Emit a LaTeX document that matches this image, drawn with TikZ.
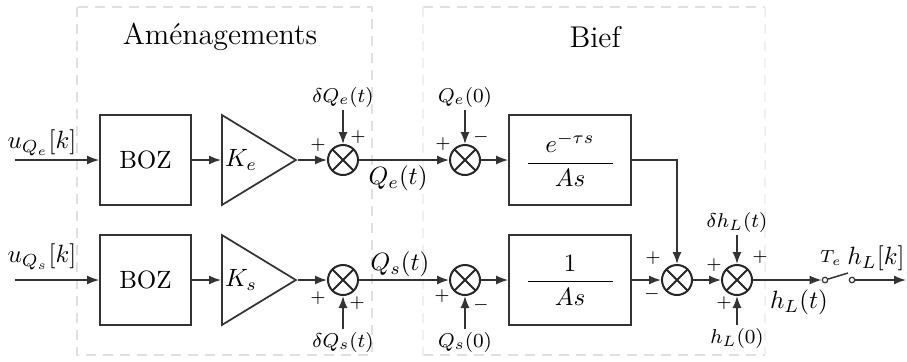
\documentclass[tikz,border=0pt]{standalone}
\usetikzlibrary{arrows.meta,shapes.geometric}
\begin{document}
\begin{tikzpicture}[x=0.4pt,y=-0.4pt,
  wire/.style={draw=black!80, line width=0.6pt},
  arr/.style={wire, -{Latex[length=4.8pt,width=3.6pt]}},
  blk/.style={draw=black!80, line width=0.7pt, minimum width=36.4pt, minimum height=36pt, inner sep=0pt},
  fblk/.style={blk, minimum width=48.8pt},
  amp/.style={draw=black!80, line width=0.7pt, isosceles triangle, isosceles triangle stretches, shape border rotate=0, minimum width=36pt, minimum height=29.6pt, inner sep=0pt, anchor=west},
  sum/.style={circle, draw=black!85, line width=0.8pt, minimum size=12pt, inner sep=0pt,
    path picture={\draw[line width=0.8pt, black!85] (path picture bounding box.north west) -- (path picture bounding box.south east) (path picture bounding box.north east) -- (path picture bounding box.south west);}},
  contact/.style={circle, draw=black!80, line width=0.5pt, inner sep=0pt, minimum size=2.2pt},
  sig/.style={font=\footnotesize, inner sep=1pt},
  sgn/.style={font=\scriptsize, inner sep=0pt},
  zone/.style={draw=black!12, line width=0.6pt, dash pattern=on 4pt off 2.8pt},
  zonefaint/.style={zone, draw=black!6}
]
\useasboundingbox (0,0) rectangle (907,361);
% zones
\draw[zone] (77,7) rectangle (372,355);
\draw[zone] (423,7) -- (765,7);
\draw[zone] (423,355) -- (765,355);
\draw[zonefaint] (423,7) -- (423,355);
\draw[zonefaint] (765,7) -- (765,355);
\node[font=\large] (t1) at (220,37) {Aménagements};
\node[font=\large] (t2) at (595,37) {Bief};

% top row
\coordinate (in1) at (15,160);
\node[blk] (boz1) at (145.5,160) {BOZ};
\node[amp] (ke) at (221,160) {};
\node (kel) at (241,160) {$K_e$};
\node[sum] (s1) at (343,160) {};
\node[sum] (s2) at (465,160) {};
\node[fblk] (f1) at (570,160) {$\displaystyle\frac{\makebox[34pt]{$e^{-\tau s}$}}{\makebox[34pt]{$As$}}$};
\node[sig] (dqe) at (343,97) {$\delta Q_e(t)$};
\node[sig] (qe0) at (465,97) {$Q_e(0)$};
\node (ue) at (42,143) {$u_{Q_e}[k]$};
\node (qet) at (398,178) {$Q_e(t)$};

\draw[arr] (in1) -- (boz1);
\draw[arr] (boz1) -- (ke.west);
\draw[arr] (ke.apex) -- (s1);
\draw[arr] (dqe) -- (s1);
\draw[arr] (s1) -- (s2);
\draw[arr] (qe0) -- (s2);
\draw[arr] (s2) -- (f1);

\node[sgn] at (318,145) {$+$};
\node[sgn] at (358,137) {$+$};
\node[sgn] at (443,144) {$+$};
\node[sgn] at (481,137) {$-$};

% bottom row
\coordinate (in2) at (15,280);
\node[blk] (boz2) at (145.5,280) {BOZ};
\node[amp] (ks) at (221,280) {};
\node (ksl) at (241,280) {$K_s$};
\node[sum] (s3) at (343,280) {};
\node[sum] (s4) at (465,280) {};
\node[fblk] (f2) at (570,280) {$\displaystyle\frac{\makebox[34pt]{$1$}}{\makebox[34pt]{$As$}}$};
\node[sig] (dqs) at (343,342) {$\delta Q_s(t)$};
\node[sig] (qs0) at (465,342) {$Q_s(0)$};
\node (us) at (42,257) {$u_{Q_s}[k]$};
\node (qst) at (400,264) {$Q_s(t)$};

\draw[arr] (in2) -- (boz2);
\draw[arr] (boz2) -- (ks.west);
\draw[arr] (ks.apex) -- (s3);
\draw[arr] (dqs) -- (s3);
\draw[arr] (s3) -- (s4);
\draw[arr] (qs0) -- (s4);
\draw[arr] (s4) -- (f2);

\node[sgn] at (318,298) {$+$};
\node[sgn] at (357,303) {$+$};
\node[sgn] at (442,296) {$+$};
\node[sgn] at (481,305) {$-$};

% output part
\node[sum] (s5) at (677,280) {};
\node[sum] (s6) at (737,280) {};
\node[sig] (dhl) at (737,222) {$\delta h_L(t)$};
\node[sig] (hl0) at (737,338) {$h_L(0)$};
\node (hlt) at (799,302) {$h_L(t)$};
\node[contact] (c1) at (825,280) {};
\node[contact] (c2) at (852,280) {};
\coordinate (sw) at (848,273);
\coordinate (out) at (906,280);
\node[font=\scriptsize] (te) at (831,258) {$T_e$};
\node[inner sep=0pt, anchor=east] (hlk) at (905,258) {$h_L[k]$};

\draw[arr] (f1.east) -| (s5);
\draw[arr] (f2) -- (s5);
\draw[arr] (s5) -- (s6);
\draw[arr] (dhl) -- (s6);
\draw[arr] (hl0) -- (s6);
\draw[arr] (s6) -- (c1);
\draw[wire] (c1) -- (sw);
\draw[arr] (c2) -- (out);

\node[sgn] at (653,258) {$+$};
\node[sgn] at (652,294) {$-$};
\node[sgn] at (714,265) {$+$};
\node[sgn] at (760,257) {$+$};
\node[sgn] at (724,303) {$+$};
\end{tikzpicture}
\end{document}
